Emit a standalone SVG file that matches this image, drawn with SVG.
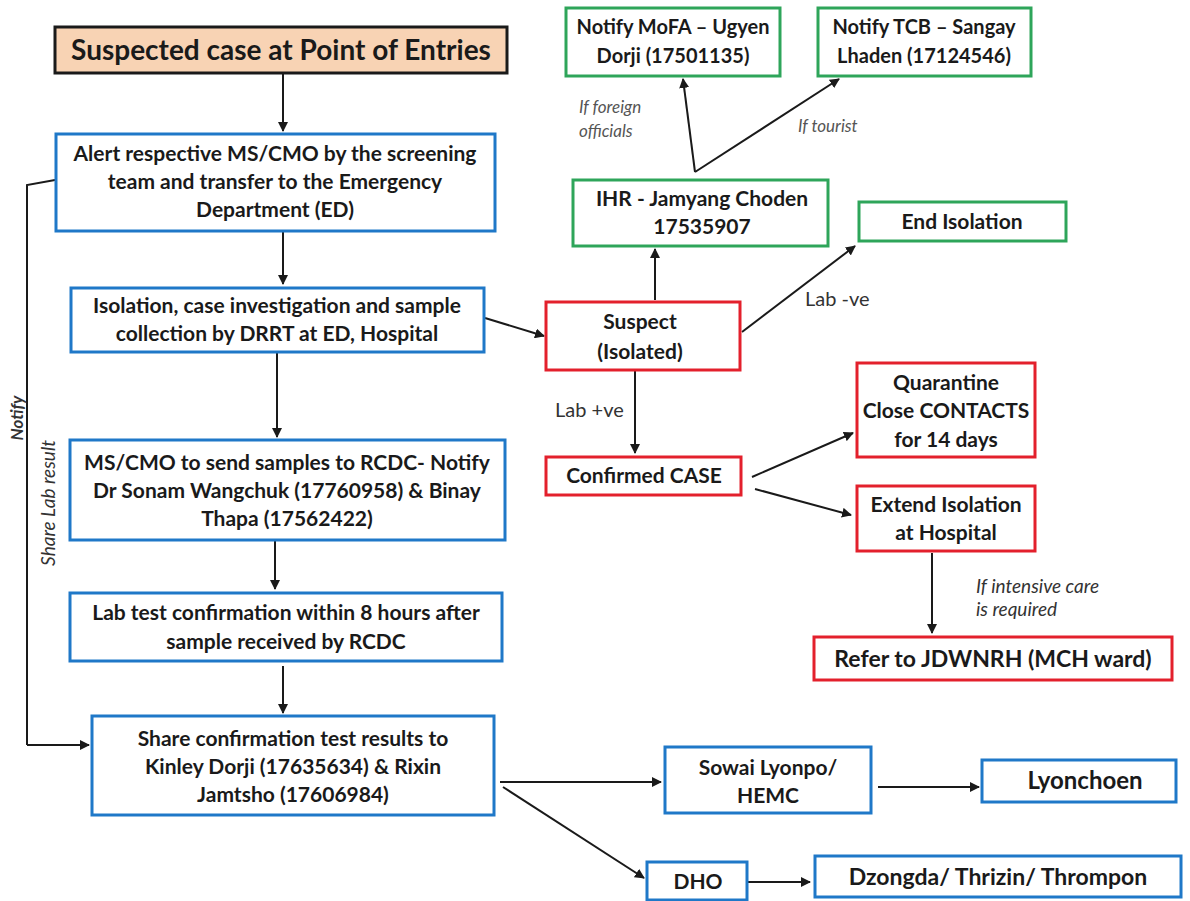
<svg xmlns="http://www.w3.org/2000/svg" width="1190" height="901" viewBox="0 0 1190 901">
<style>
text{font-family:Lato,"Open Sans","Liberation Sans",sans-serif;fill:#1a1a1a;text-anchor:middle}
.t{font-size:21px;font-weight:bold}
.blue{fill:#fff;stroke:#1f78c8;stroke-width:3}
.green{fill:#fff;stroke:#2ea55a;stroke-width:3}
.red{fill:#fff;stroke:#e3202c;stroke-width:3}
.lbl{font-size:20px;fill:#333;text-anchor:start}
.it{font-size:17px;font-style:italic;fill:#555;text-anchor:start}
.c{fill:none;stroke:#1a1a1a;stroke-width:2;marker-end:url(#ah)}
.cn{fill:none;stroke:#1a1a1a;stroke-width:2}
</style>
<defs>
<marker id="ah" viewBox="0 0 10 10" refX="9" refY="5" markerWidth="5" markerHeight="5" orient="auto" markerUnits="strokeWidth">
<path d="M0,0 L10,5 L0,10 z" fill="#1a1a1a"/>
</marker>
</defs>
<rect width="1190" height="901" fill="#fff"/>

<g id="connectors">
<path class="c" d="M283,74 V131"/>
<path class="c" d="M283,232 V284"/>
<path class="c" d="M485,318 L544,336"/>
<path class="c" d="M277,353 V437"/>
<path class="c" d="M275,541 V589"/>
<path class="c" d="M283,666 V713"/>
<path class="cn" d="M55,180 L27,185 V745"/>
<path class="c" d="M27,745 H89"/>
<path class="c" d="M500,782 H661"/>
<path class="c" d="M503,787 L644,878"/>
<path class="c" d="M878,787 H979"/>
<path class="c" d="M748,882 H810"/>
<path class="c" d="M655,300 V249"/>
<path class="c" d="M695,172 L683,79"/>
<path class="c" d="M695,172 L839,79"/>
<path class="c" d="M742,332 L855,246"/>
<path class="c" d="M635,371 V453"/>
<path class="c" d="M752,477 L853,433"/>
<path class="c" d="M755,489 L851,515"/>
<path class="c" d="M932,553 V633"/>
</g>

<g id="n-title">
<rect x="55" y="27" width="452" height="46" fill="#f8d3b4" stroke="#1a1a1a" stroke-width="3"/>
<text x="281" y="60" style="font-size:28px;font-weight:bold">Suspected case at Point of Entries</text>
</g>
<g id="n-alert">
<rect class="blue" x="56" y="134" width="439" height="97"/>
<text class="t" x="275" y="161">Alert respective MS/CMO  by the screening</text>
<text class="t" x="275" y="189">team and transfer to the Emergency</text>
<text class="t" x="275" y="217">Department (ED)</text>
</g>
<g id="n-isolation">
<rect class="blue" x="71" y="288" width="413" height="64"/>
<text class="t" x="277" y="313">Isolation, case investigation and sample</text>
<text class="t" x="277" y="341">collection by DRRT at ED, Hospital</text>
</g>
<g id="n-mscmo">
<rect class="blue" x="70" y="440" width="435" height="100"/>
<text class="t" x="287" y="470">MS/CMO to send samples to RCDC- Notify</text>
<text class="t" x="287" y="498">Dr Sonam Wangchuk (17760958) &amp; Binay</text>
<text class="t" x="287" y="526">Thapa (17562422)</text>
</g>
<g id="n-labtest">
<rect class="blue" x="70" y="593" width="432" height="68"/>
<text class="t" x="286" y="620">Lab test confirmation within 8 hours after</text>
<text class="t" x="286" y="649">sample received by RCDC</text>
</g>
<g id="n-share">
<rect class="blue" x="92" y="716" width="402" height="99"/>
<text class="t" x="293" y="746">Share confirmation test results to</text>
<text class="t" x="293" y="774">Kinley Dorji (17635634) &amp; Rixin</text>
<text class="t" x="293" y="802">Jamtsho (17606984)</text>
</g>
<g id="n-sowai">
<rect class="blue" x="665" y="747" width="206" height="66"/>
<text class="t" x="768" y="775">Sowai Lyonpo/</text>
<text class="t" x="768" y="803">HEMC</text>
</g>
<g id="n-lyonchoen">
<rect class="blue" x="982" y="760" width="194" height="42"/>
<text class="t" x="1085" y="789" style="font-size:24px">Lyonchoen</text>
</g>
<g id="n-dho">
<rect class="blue" x="647" y="862" width="100" height="38"/>
<text class="t" x="698" y="889">DHO</text>
</g>
<g id="n-dzongda">
<rect class="blue" x="815" y="856" width="366" height="41"/>
<text class="t" x="998" y="885" style="font-size:23px">Dzongda/ Thrizin/ Thrompon</text>
</g>
<g id="n-mofa">
<rect class="green" x="566" y="8" width="214" height="68"/>
<text class="t" x="673" y="34" style="font-size:20px">Notify MoFA – Ugyen</text>
<text class="t" x="673" y="63" style="font-size:20px">Dorji (17501135)</text>
</g>
<g id="n-tcb">
<rect class="green" x="818" y="8" width="213" height="68"/>
<text class="t" x="924" y="34" style="font-size:20px">Notify TCB – Sangay</text>
<text class="t" x="924" y="63" style="font-size:20px">Lhaden (17124546)</text>
</g>
<g id="n-ihr">
<rect class="green" x="573" y="180" width="255" height="66"/>
<text class="t" x="702" y="206">IHR - Jamyang Choden</text>
<text class="t" x="702" y="234">17535907</text>
</g>
<g id="n-end">
<rect class="green" x="859" y="202" width="207" height="39"/>
<text class="t" x="962" y="229">End Isolation</text>
</g>
<g id="n-suspect">
<rect class="red" x="546" y="302" width="194" height="68"/>
<text class="t" x="640" y="329">Suspect</text>
<text class="t" x="640" y="359">(Isolated)</text>
</g>
<g id="n-confirmed">
<rect class="red" x="546" y="457" width="195" height="38"/>
<text class="t" x="644" y="483">Confirmed CASE</text>
</g>
<g id="n-quarantine">
<rect class="red" x="857" y="363" width="178" height="94"/>
<text class="t" x="946" y="390">Quarantine</text>
<text class="t" x="946" y="418">Close CONTACTS</text>
<text class="t" x="946" y="447">for 14 days</text>
</g>
<g id="n-extend">
<rect class="red" x="857" y="486" width="178" height="65"/>
<text class="t" x="946" y="512">Extend Isolation</text>
<text class="t" x="946" y="540">at Hospital</text>
</g>
<g id="n-refer">
<rect class="red" x="814" y="637" width="358" height="43"/>
<text class="t" x="993" y="667" style="font-size:23px">Refer to JDWNRH (MCH ward)</text>
</g>

<g id="labels">
<text class="it" x="579" y="113">If foreign</text>
<text class="it" x="579" y="137">officials</text>
<text class="it" x="798" y="132">If tourist</text>
<text class="lbl" x="805" y="306">Lab -ve</text>
<text class="lbl" x="555" y="417">Lab +ve</text>
<text class="it" x="976" y="593" style="fill:#333;font-size:19px">If intensive care</text>
<text class="it" x="976" y="616" style="fill:#333;font-size:19px">is required</text>
<text transform="translate(23,418) rotate(-90)" style="font-size:17px;font-style:italic;font-weight:bold;fill:#333">Notify</text>
<text transform="translate(55,503) rotate(-90)" style="font-size:19px;font-style:italic;fill:#333">Share Lab result</text>
</g>
</svg>
